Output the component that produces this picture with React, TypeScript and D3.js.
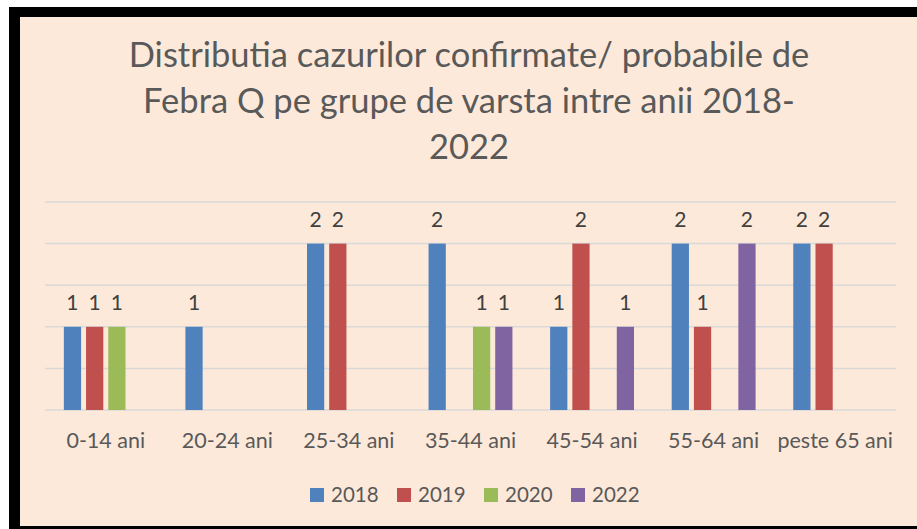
import * as d3 from 'd3'

const categories = ['0-14 ani', '20-24 ani', '25-34 ani', '35-44 ani', '45-54 ani', '55-64 ani', 'peste 65 ani']
const years = ['2018', '2019', '2020', '2022']
const v2018 = [1, 1, 2, 2, 1, 2, 2]
const v2019 = [1, 0, 2, 0, 2, 1, 2]
const v2020 = [1, 0, 0, 1, 0, 0, 0]
const v2022 = [0, 0, 0, 1, 1, 2, 0]
const yTicks = [0, 0.5, 1, 1.5, 2, 2.5]
const titleLines = ['Distributia cazurilor confirmate/ probabile de', 'Febra Q pe grupe de varsta intre anii 2018-', '2022']

const seriesValues = [v2018, v2019, v2020, v2022]
const colors = ['#4F81BD', '#C0504D', '#9BBB59', '#8064A2']

const W = 917
const H = 529
const font = 'Lato, "Open Sans", sans-serif'

const App = () => {
  const plot = { left: 45, right: 896, top: 202, bottom: 410 }

  const x0 = d3.scaleBand<string>().domain(categories).range([plot.left, plot.right]).padding(0)
  const bw = x0.bandwidth()
  const x1 = d3
    .scaleBand<string>()
    .domain(years)
    .range([bw * 0.155, bw * 0.845])
    .paddingInner(0.224)
  const y = d3.scaleLinear().domain([0, 2.5]).range([plot.bottom, plot.top])

  const legendStart = 310
  const legendStep = 87

  return (
    <svg width={W} height={H} style={{ position: 'absolute', left: 0, top: 0, background: '#fff' }}>
      <rect x={9} y={7} width={W} height={H} fill="#000" />
      <rect x={20} y={17} width={W} height={509} fill="#FDE9D9" />

      <g fontFamily={font} fill="#595959" textAnchor="middle">
        {titleLines.map((t, i) => (
          <text key={i} x={469} y={67 + i * 46} fontSize={34.5}>
            {t}
          </text>
        ))}
      </g>

      <g className="grid">
        {yTicks.map((t) => (
          <line key={t} x1={plot.left} x2={plot.right} y1={y(t)} y2={y(t)} stroke="#D9D9D9" strokeWidth={1.5} />
        ))}
      </g>

      <g className="bars">
        {categories.map((c, ci) => (
          <g key={c} transform={`translate(${x0(c)},0)`}>
            {years.map((yr, si) => {
              const v = seriesValues[si][ci]
              if (!v) return null
              const bx = x1(yr)!
              return (
                <g key={yr}>
                  <rect x={bx} y={y(v)} width={x1.bandwidth()} height={y(0) - y(v)} fill={colors[si]} />
                  <text
                    x={bx + x1.bandwidth() / 2}
                    y={y(v) - 17}
                    textAnchor="middle"
                    fontFamily={font}
                    fontSize={21}
                    fill="#404040"
                  >
                    {v}
                  </text>
                </g>
              )
            })}
          </g>
        ))}
      </g>

      <g className="x-axis" fontFamily={font} fontSize={21.5} fill="#595959" textAnchor="middle">
        {categories.map((c) => (
          <text key={c} x={x0(c)! + bw / 2} y={448}>
            {c}
          </text>
        ))}
      </g>

      <g className="legend" fontFamily={font} fontSize={20.5} fill="#595959">
        {years.map((yr, i) => (
          <g key={yr} transform={`translate(${legendStart + i * legendStep},0)`}>
            <rect x={0} y={488} width={14} height={14} fill={colors[i]} />
            <text x={21} y={502}>
              {yr}
            </text>
          </g>
        ))}
      </g>
    </svg>
  )
}

export default App
